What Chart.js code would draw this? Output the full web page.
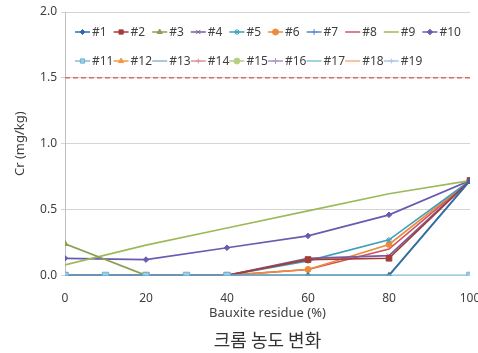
<!DOCTYPE html>
<html>
<head>
<meta charset="utf-8">
<script src="https://cdn.jsdelivr.net/npm/chart.js@4.4.0/dist/chart.umd.min.js"></script>
<style>
  html, body { margin: 0; padding: 0; background: #fff; }
  #wrap { width: 478px; height: 353px; }
</style>
</head>
<body>
<div id="wrap"><canvas id="chart"></canvas></div>
<script>
// x positions (bauxite residue %)
const xMain = [0, 20, 40, 60, 80, 100];
const xFine = [0, 10, 20, 30, 40, 100];

// Cr (mg/kg) per series
const s1 = [0, 0, 0, 0, 0, 0.72];
const s2 = [0, 0, 0, 0.12, 0.13, 0.72];
const s3 = [0.24, 0, 0, 0, 0, 0.72];
const s4 = [0, 0, 0, 0.13, 0.15, 0.72];
const s5 = [0, 0, 0, 0.11, 0.27, 0.72];
const s6 = [0, 0, 0, 0.045, 0.235, 0.72];
const s8 = [0, 0, 0, 0.045, 0.2, 0.72];
const s9 = [0.08, 0.23, 0.36, 0.49, 0.62, 0.72];
const s10 = [0.13, 0.12, 0.21, 0.30, 0.46, 0.72];
const s11 = [0, 0, 0, 0, 0, 0];
const limitX = [0, 100];
const limitY = [1.5, 1.5];

const seriesLabels = ['#1', '#2', '#3', '#4', '#5', '#6', '#7', '#8', '#9', '#10',
  '#11', '#12', '#13', '#14', '#15', '#16', '#17', '#18', '#19'];
const yTicks = [0, 0.5, 1.0, 1.5, 2.0];
const xTicks = [0, 20, 40, 60, 80, 100];

function pts(xs, ys) {
  return xs.map((x, i) => ({ x: x, y: ys[i] }));
}

function series(label, xs, ys, color, style, radius, extra) {
  return Object.assign({
    label: label,
    data: xs ? pts(xs, ys) : [],
    borderColor: color,
    backgroundColor: color,
    pointBackgroundColor: color,
    pointBorderColor: color,
    borderWidth: 1.7,
    pointStyle: style,
    pointRadius: radius,
    pointBorderWidth: 1,
    tension: 0
  }, extra || {});
}

const datasets = [
  series('#1', xMain, s1, '#2E6DB4', 'rectRot', 2.5),
  series('#2', xMain, s2, '#A43D3A', 'rect', 4),
  series('#3', xMain, s3, '#8AA153', 'triangle', 3.5),
  series('#4', xMain, s4, '#7A5C9E', 'crossRot', 3),
  series('#5', xMain, s5, '#3EA0BC', 'star', 3),
  series('#6', xMain, s6, '#EE8A3C', 'circle', 3),
  series('#7', null, null, '#5B8BC8', 'cross', 3),
  series('#8', xMain, s8, '#CF5560', false, 0),
  series('#9', xMain, s9, '#9DBA5A', false, 0),
  series('#10', xMain, s10, '#6A5BB0', 'rectRot', 2.8),
  series('#11', xFine, s11, '#7DBFDD', 'rect', 4.5, { pointBackgroundColor: '#9CCFE3', pointBorderColor: '#6DB3D4', order: -1 }),
  series('#12', null, null, '#F79646', 'triangle', 3),
  series('#13', null, null, '#95B3D7', false, 0),
  series('#14', null, null, '#D99694', 'cross', 2.5),
  series('#15', null, null, '#B6CF86', 'circle', 3),
  series('#16', null, null, '#A897C4', 'cross', 3),
  series('#17', null, null, '#80C6DA', false, 0),
  series('#18', null, null, '#F4B183', false, 0),
  series('#19', null, null, '#A9C6E6', 'cross', 2.5),
  {
    label: 'limit',
    data: pts(limitX, limitY),
    borderColor: '#E06666',
    borderWidth: 1.5,
    borderDash: [5, 3],
    pointRadius: 0,
    order: 10
  }
];

// legend drawn inside the plot, two rows like the original
const insideLegend = {
  id: 'insideLegend',
  afterDatasetsDraw(chart) {
    const ctx = chart.ctx;
    const area = chart.chartArea;
    ctx.save();
    ctx.font = '12px "Noto Sans"';
    ctx.textBaseline = 'middle';
    seriesLabels.forEach((lab, i) => {
      const row = i < 10 ? 0 : 1;
      const col = row ? i - 10 : i;
      const x = area.left + 10 + col * 38.6;
      const y = area.top + (row ? 49 : 20);
      const ds = chart.data.datasets[i];
      ctx.strokeStyle = ds.borderColor;
      ctx.lineWidth = 1.5;
      ctx.setLineDash([]);
      ctx.beginPath();
      ctx.moveTo(x, y);
      ctx.lineTo(x + 15, y);
      ctx.stroke();
      if (ds.pointStyle && ds.pointRadius > 0) {
        ctx.fillStyle = ds.pointBackgroundColor;
        ctx.strokeStyle = ds.pointBorderColor;
        ctx.lineWidth = 1;
        Chart.helpers.drawPoint(ctx, {
          pointStyle: ds.pointStyle,
          radius: Math.min(ds.pointRadius, 3),
          rotation: 0,
          borderWidth: 1
        }, x + 7.5, y);
      }
      ctx.fillStyle = '#404040';
      ctx.fillText(lab, x + 17, y + 0.5);
    });
    ctx.restore();
  }
};

new Chart(document.getElementById('chart'), {
  type: 'line',
  data: { datasets: datasets },
  plugins: [insideLegend],
  options: {
    responsive: true,
    maintainAspectRatio: false,
    animation: false,
    layout: { padding: { top: 12, right: 8, bottom: 0, left: 0 } },
    plugins: {
      legend: { display: false },
      tooltip: { enabled: false },
      title: {
        display: true,
        position: 'bottom',
        fullSize: false,
        text: '크롬 농도 변화',
        color: '#333333',
        font: { family: '"Noto Sans CJK KR"', size: 18, weight: 'normal' },
        padding: { top: 4, bottom: 2 }
      }
    },
    scales: {
      x: {
        type: 'linear',
        min: 0,
        max: 100,
        afterBuildTicks: (scale) => { scale.ticks = xTicks.map(v => ({ value: v })); },
        afterFit: (scale) => { scale.paddingLeft = 0; scale.paddingRight = 0; scale.height = 50; },
        ticks: { color: '#404040', padding: 8, font: { family: '"Noto Sans"', size: 12 } },
        grid: { display: false },
        border: { display: false },
        title: {
          display: true,
          text: 'Bauxite residue (%)',
          color: '#404040',
          font: { family: '"Noto Sans"', size: 13 },
          padding: { top: 2, bottom: 4 }
        }
      },
      y: {
        min: 0,
        max: 2,
        afterBuildTicks: (scale) => { scale.ticks = yTicks.map(v => ({ value: v })); },
        afterFit: (scale) => { scale.width = 65; scale.paddingTop = 0; scale.paddingBottom = 0; },
        ticks: {
          color: '#404040',
          padding: 4,
          font: { family: '"Noto Sans"', size: 12 },
          callback: (v) => Number(v).toFixed(1)
        },
        grid: { color: '#D4D4D4', lineWidth: 1, tickLength: 4 },
        border: { color: '#BFBFBF' },
        title: {
          display: true,
          text: 'Cr (mg/kg)',
          color: '#404040',
          font: { family: '"Noto Sans"', size: 13 },
          padding: { top: 12, bottom: 0 }
        }
      }
    }
  }
});
</script>
</body>
</html>
